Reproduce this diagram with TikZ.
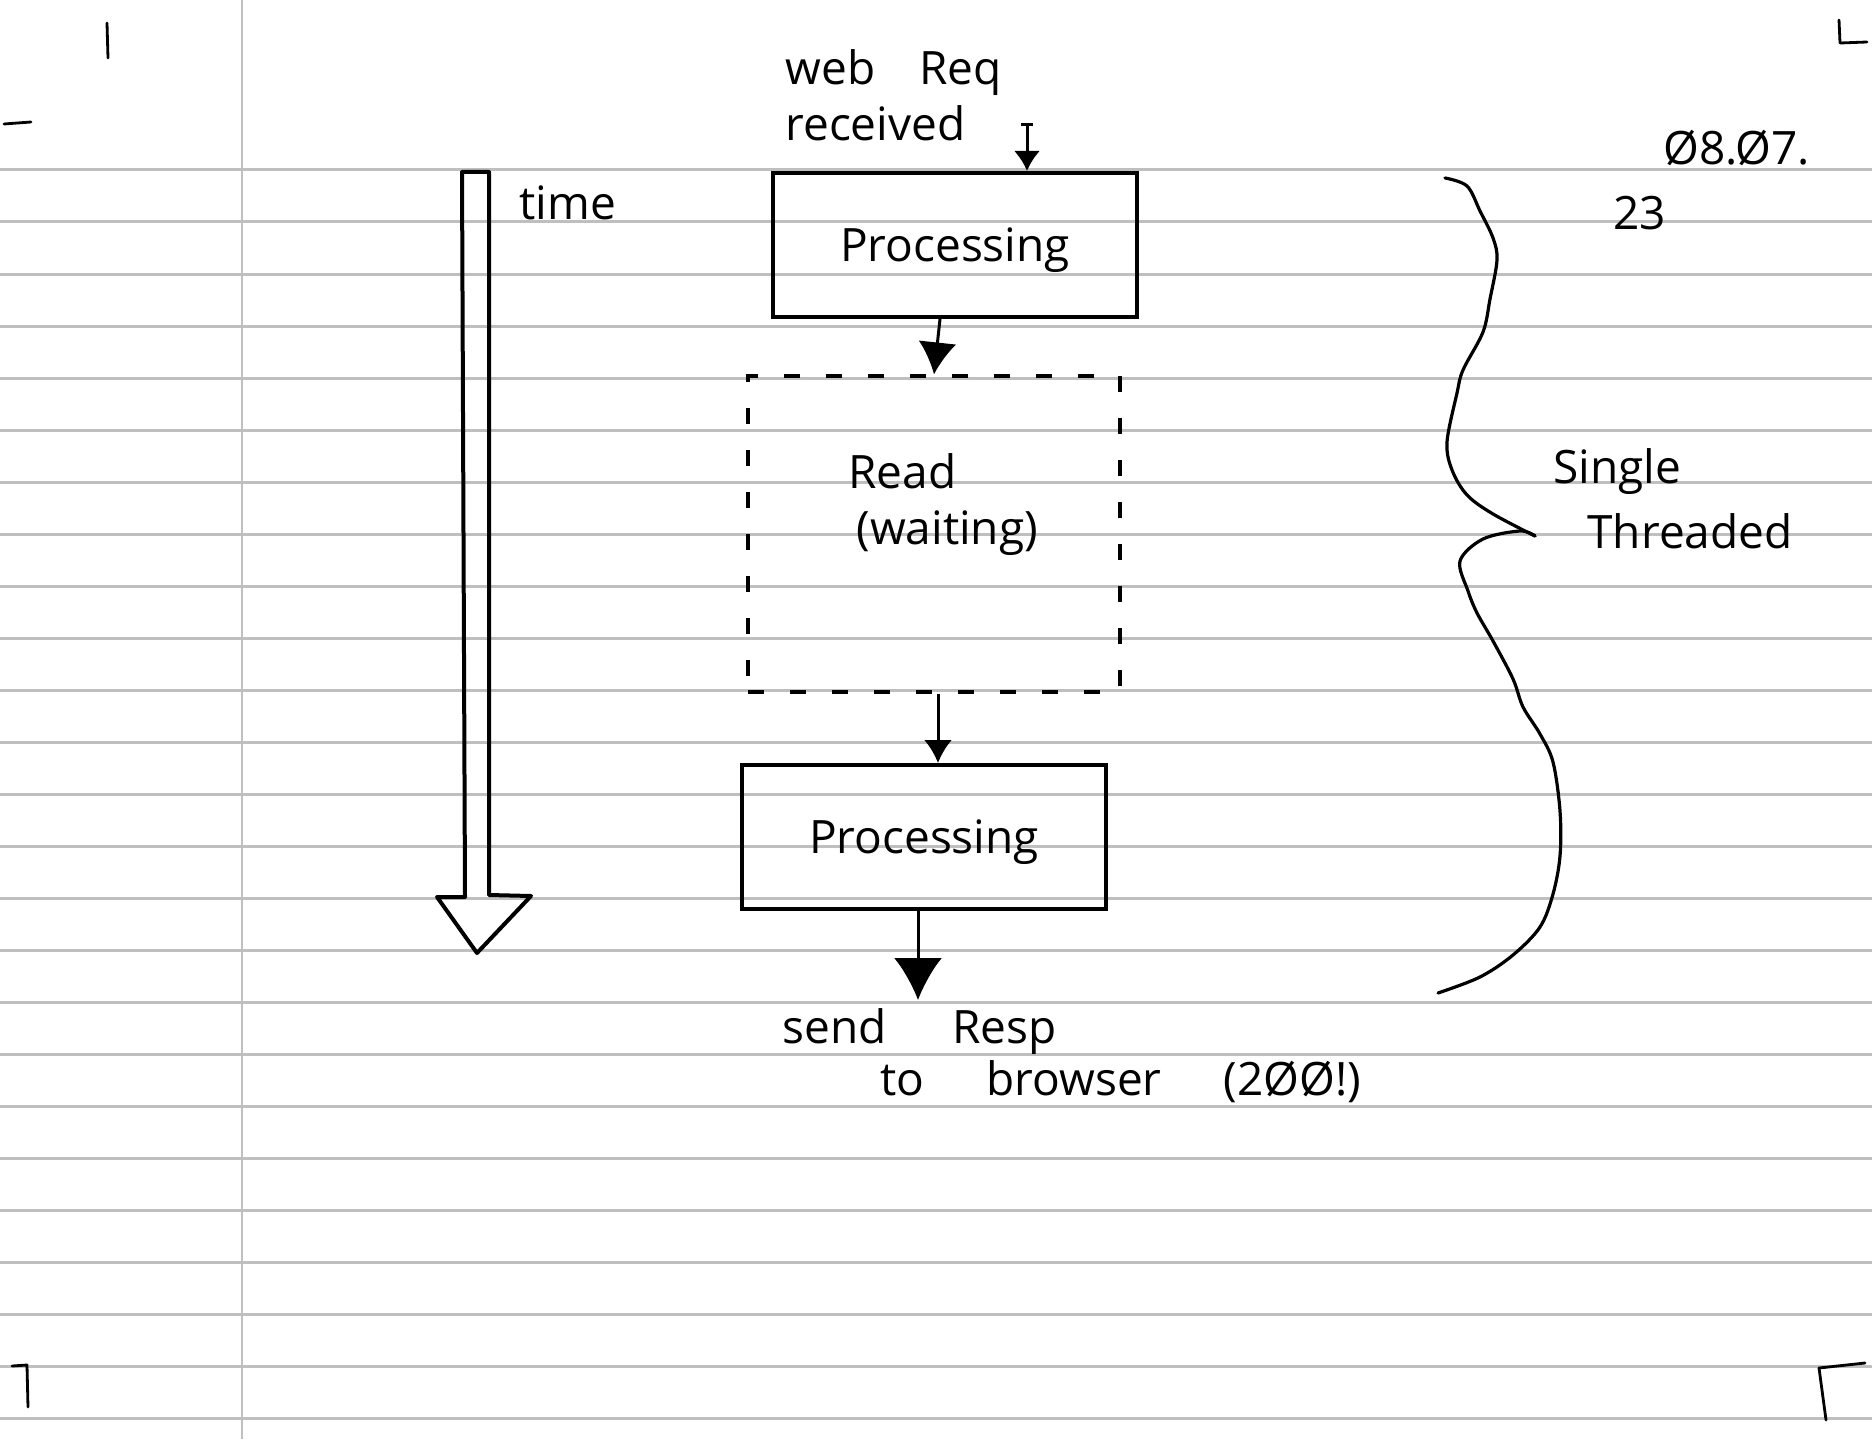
\documentclass[tikz,border=0pt]{standalone}
\usepackage{fontspec}
\setmainfont{Open Sans}
\usetikzlibrary{arrows.meta,positioning}
\definecolor{rulegray}{HTML}{BFBFBF}
\newcommand{\handfont}{\fontsize{23}{28}\selectfont}

\begin{document}
\begin{tikzpicture}[x=0.5pt,y=-0.5pt,
  >=Latex,
  ruling/.style={draw=rulegray,line width=1.5pt},
  marginline/.style={draw=rulegray,line width=0.7pt},
  pen/.style={draw=black,line width=2pt,line join=round,line cap=round},
  thinpen/.style={draw=black,line width=1.4pt,line join=round,line cap=round},
  flow/.style={-{Latex[length=12pt,width=14pt]},line width=1.5pt,draw=black},
  box/.style={draw=black,line width=2pt,minimum width=182pt,minimum height=72pt,
    inner sep=0pt,text depth=0pt,font=\handfont},
  waitbox/.style={draw=black,line width=1.6pt,dash pattern=on 8pt off 13pt,
    minimum width=186pt,minimum height=158pt,inner sep=0pt},
  note/.style={font=\handfont,inner sep=0pt,align=left}
]
\useasboundingbox[fill=white] (0,0) rectangle (1872,1439);
\foreach \r in {0,...,24}
  \draw[ruling] (0,{170+52*\r}) -- (1872,{170+52*\r});
\draw[marginline] (242,0) -- (242,1439);

\draw[thinpen] (107,23) -- (108,58);
\draw[thinpen] (4,124) -- (31,122);
\draw[thinpen] (1839,20) -- (1840,43) -- (1867,42);
\draw[thinpen] (12,1366) -- (27,1365) -- (28,1407);
\draw[thinpen] (1865,1363) -- (1819,1368) -- (1826,1420);

\draw[pen] (462,172) -- (489,172) -- (489,895) -- (531,896) -- (477,953)
  -- (437,897) -- (465,897) -- cycle;
\node[note,anchor=base west] (timelbl) at (519,220) {time};

\node[box] (proc1) at (955,245) {Processing};
\node[waitbox] (read) at (934,534) {};
\node[box] (proc2) at (924,837) {Processing};

\node[note,anchor=north west] (webreq) at (785,49) {web\hspace{22pt}Req\\received};
\node[note,anchor=north west] (readlbl) at (848,453) {Read\\\hspace*{4pt}(waiting)};
\node[note,anchor=north west] (resp) at (782,1008)
  {send\hspace{33pt}Resp\\[-2pt]\hspace*{49pt}to\hspace{31pt}browser\hspace{31pt}(2ØØ!)};
\node[note,anchor=north west] (threads) at (1553,448) {Single\\[4.5pt]\hspace*{17pt}Threaded};
\node[note,anchor=north west] (date) at (1613,130) {\hspace*{25pt}Ø8.Ø7.\\[4.5pt]23};

\coordinate (reqfrom) at (1027,123);
\coordinate (readout) at ([xshift=2pt]read.south);
\coordinate (sent) at (918,1000);
\draw[flow,{Bar[width=6pt]}-{Latex[length=10pt,width=13pt]}] (reqfrom) -- (reqfrom |- proc1.north);
\draw[flow,-{Latex[length=16pt,width=19pt]}] ([xshift=-7.5pt]proc1.south) -- (read.north);
\draw[flow,-{Latex[length=11.5pt,width=14pt]}] (readout) -- (readout |- proc2.north);
\draw[flow,-{Latex[length=21pt,width=24pt]}] (proc2.south -| sent) -- (sent);

\draw[pen,line width=1.6pt] plot[smooth,tension=0.55] coordinates {(1445,178) (1467,186)
  (1480,211) (1493,238) (1497,260) (1490,299) (1483,332) (1463,370) (1457,393)
  (1447,442) (1452,470) (1467,495) (1493,514) (1535,536)};
\draw[pen,line width=1.6pt] plot[smooth,tension=0.55] coordinates {(1535,536) (1520,531)
  (1483,539) (1460,561) (1468,591) (1477,613) (1493,641) (1513,679) (1523,707)
  (1540,734) (1553,762) (1560,811) (1560,856) (1553,894) (1540,927) (1513,955)
  (1480,977) (1438,993)};
\end{tikzpicture}
\end{document}
